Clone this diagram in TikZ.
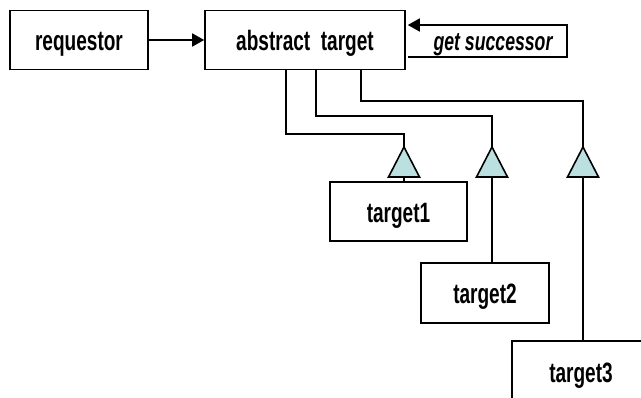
\documentclass[tikz,border=0pt]{standalone}
\usepackage{fontspec}
\newfontfamily\labelfont[FakeStretch=0.68]{Liberation Sans}
\usetikzlibrary{arrows.meta,calc}
\definecolor{triblue}{HTML}{BCE0E0}
\begin{document}
\begin{tikzpicture}[x=1pt,y=-1pt,
  line width=1.6pt,
  label text/.style={font=\labelfont\bfseries\fontsize{28}{32}\selectfont},
  box/.style={draw, label text, minimum height=59pt, inner sep=0pt,
    text height=21.5pt, text depth=0pt},
  link/.style={-{Triangle[length=12pt,width=13pt]}},
  tri/.style={draw, fill=triblue, line join=miter}]
\useasboundingbox (0,0) rectangle (641,398);
\clip (0,0) rectangle (641,398);

% classes
\node[box, minimum width=138pt] (requestor) at (79,40) {requestor};
\node[box, minimum width=200pt] (abstract) at (305,40) {abstract\ \ target};
\node[box, minimum width=137pt] (target1) at (398.5,211.5) {target1};
\node[box, minimum width=128pt, minimum height=60pt] (target2) at (485,293) {target2};
\node[box, minimum width=138pt, minimum height=62pt] (target3) at (581,372) {target3};

% request
\draw[link] (requestor.east) -- (abstract.west);

% successor link on the abstract target
\coordinate (gsTR) at (567,25);
\coordinate (gsBR) at (567,57);
\coordinate (gsTL) at ($(abstract.east |- gsTR)+(2,0)$);
\coordinate (gsBL) at ($(abstract.east |- gsBR)+(2,0)$);
\draw[link] (gsBL) -- (gsBR) -- (gsTR) -- (gsTL);
\node[font=\labelfont\bfseries\itshape\fontsize{26}{30}\selectfont, anchor=base, inner sep=0pt] (gs) at (493,51) {get successor};

% inheritance triangles (apex and base centre)
\coordinate (t1) at (404,147);
\coordinate (t2) at (492,147);
\coordinate (t3) at (583,147);
\coordinate (t1b) at (404,177);
\coordinate (t2b) at (492,177);
\coordinate (t3b) at (583,177);

% bends of the inheritance lines
\coordinate (a1) at (286,0);
\coordinate (a2) at (316,0);
\coordinate (a3) at (361,0);
\coordinate (k1) at (286,134);
\coordinate (k2) at (316,116);
\coordinate (k3) at (361,101);

\draw (abstract.south -| a1) -- (k1) -- (k1 -| t1) -- (t1);
\draw (abstract.south -| a2) -- (k2) -- (k2 -| t2) -- (t2);
\draw (abstract.south -| a3) -- (k3) -- (k3 -| t3) -- (t3);

\draw (t1b) -- (t1b |- target1.north);
\draw (t2b) -- (t2b |- target2.north);
\draw (t3b) -- (t3b |- target3.north);

\foreach \t in {t1,t2,t3}
  \draw[tri] (\t) -- ($(\t b)+(15.5,0)$) -- ($(\t b)+(-15.5,0)$) -- cycle;
\end{tikzpicture}
\end{document}
